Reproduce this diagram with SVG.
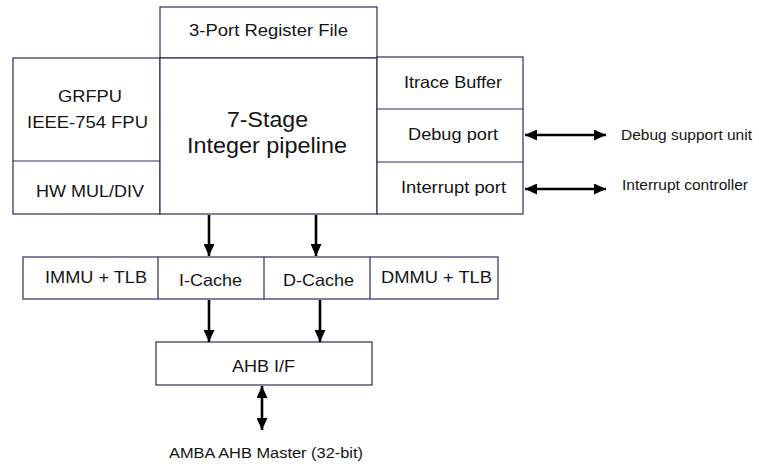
<svg xmlns="http://www.w3.org/2000/svg" width="759" height="464" viewBox="0 0 759 464">
  <style>
    .box { fill: #ffffff; stroke: #2e2e5c; stroke-width: 1.2; }
    .div { stroke: #2e2e5c; stroke-width: 1.2; }
    .lbl { font-family: "Liberation Sans", Arial, sans-serif; fill: #141414; text-anchor: middle; font-size: 16.5px; }
    .big { font-size: 22px; }
    .ext { font-family: "Liberation Sans", Arial, sans-serif; fill: #141414; font-size: 15.5px; }
    .conn { stroke: #000000; stroke-width: 2.6; fill: none; }
  </style>
  <defs>
    <marker id="head" viewBox="0 0 12 11" refX="12" refY="5.5" markerWidth="12" markerHeight="11" markerUnits="userSpaceOnUse" orient="auto-start-reverse">
      <path d="M0,0 L12,5.5 L0,11 Z" fill="#000000"/>
    </marker>
  </defs>

  <rect width="759" height="464" fill="#ffffff"/>

  <g id="register-file">
    <rect class="box" x="160" y="7" width="217" height="51"/>
    <text class="lbl" x="268.5" y="36" textLength="159" lengthAdjust="spacingAndGlyphs">3-Port Register File</text>
  </g>

  <g id="fpu-muldiv">
    <rect class="box" x="13" y="58" width="147" height="156"/>
    <line class="div" x1="13" y1="161" x2="160" y2="161"/>
    <text class="lbl" x="90" y="102" textLength="64" lengthAdjust="spacingAndGlyphs">GRFPU</text>
    <text class="lbl" x="87.5" y="128" textLength="121" lengthAdjust="spacingAndGlyphs">IEEE-754 FPU</text>
    <text class="lbl" x="90" y="197" textLength="108" lengthAdjust="spacingAndGlyphs">HW MUL/DIV</text>
  </g>

  <g id="pipeline">
    <rect class="box" x="160" y="58" width="217" height="156"/>
    <text class="lbl big" x="267.5" y="127" textLength="81" lengthAdjust="spacingAndGlyphs">7-Stage</text>
    <text class="lbl big" x="267" y="153" textLength="160" lengthAdjust="spacingAndGlyphs">Integer pipeline</text>
  </g>

  <g id="ports">
    <rect class="box" x="377" y="57" width="146" height="157"/>
    <line class="div" x1="377" y1="109" x2="523" y2="109"/>
    <line class="div" x1="377" y1="162" x2="523" y2="162"/>
    <text class="lbl" x="453" y="88" textLength="98" lengthAdjust="spacingAndGlyphs">Itrace Buffer</text>
    <text class="lbl" x="453" y="140" textLength="90" lengthAdjust="spacingAndGlyphs">Debug port</text>
    <text class="lbl" x="453.5" y="193" textLength="105" lengthAdjust="spacingAndGlyphs">Interrupt port</text>
  </g>

  <g id="cache-row">
    <rect class="box" x="23" y="257" width="475" height="42"/>
    <line class="div" x1="158" y1="257" x2="158" y2="299"/>
    <line class="div" x1="264" y1="257" x2="264" y2="299"/>
    <line class="div" x1="370" y1="257" x2="370" y2="299"/>
    <text class="lbl" x="96" y="283" textLength="102" lengthAdjust="spacingAndGlyphs">IMMU + TLB</text>
    <text class="lbl" x="210.5" y="286" textLength="63" lengthAdjust="spacingAndGlyphs">I-Cache</text>
    <text class="lbl" x="318.5" y="286" textLength="71" lengthAdjust="spacingAndGlyphs">D-Cache</text>
    <text class="lbl" x="436.5" y="283" textLength="111" lengthAdjust="spacingAndGlyphs">DMMU + TLB</text>
  </g>

  <g id="ahb-if">
    <rect class="box" x="156" y="342" width="216" height="43"/>
    <text class="lbl" x="263.5" y="372" textLength="63" lengthAdjust="spacingAndGlyphs">AHB I/F</text>
  </g>

  <g id="external-labels">
    <text class="ext" x="621" y="140" textLength="131" lengthAdjust="spacingAndGlyphs">Debug support unit</text>
    <text class="ext" x="622" y="190" textLength="126" lengthAdjust="spacingAndGlyphs">Interrupt controller</text>
    <text class="ext" x="169" y="458" textLength="194" lengthAdjust="spacingAndGlyphs">AMBA AHB Master (32-bit)</text>
  </g>

  <g id="connectors">
    <line class="conn" x1="209" y1="215" x2="209" y2="256" marker-end="url(#head)"/>
    <line class="conn" x1="316" y1="215" x2="316" y2="256" marker-end="url(#head)"/>
    <line class="conn" x1="209" y1="300" x2="209" y2="342" marker-end="url(#head)"/>
    <line class="conn" x1="320" y1="300" x2="320" y2="342" marker-end="url(#head)"/>
    <line class="conn" x1="262" y1="386" x2="262" y2="430" marker-start="url(#head)" marker-end="url(#head)"/>
    <line class="conn" x1="525" y1="135" x2="606" y2="135" marker-start="url(#head)" marker-end="url(#head)"/>
    <line class="conn" x1="525" y1="189" x2="606" y2="189" marker-start="url(#head)" marker-end="url(#head)"/>
  </g>
</svg>
